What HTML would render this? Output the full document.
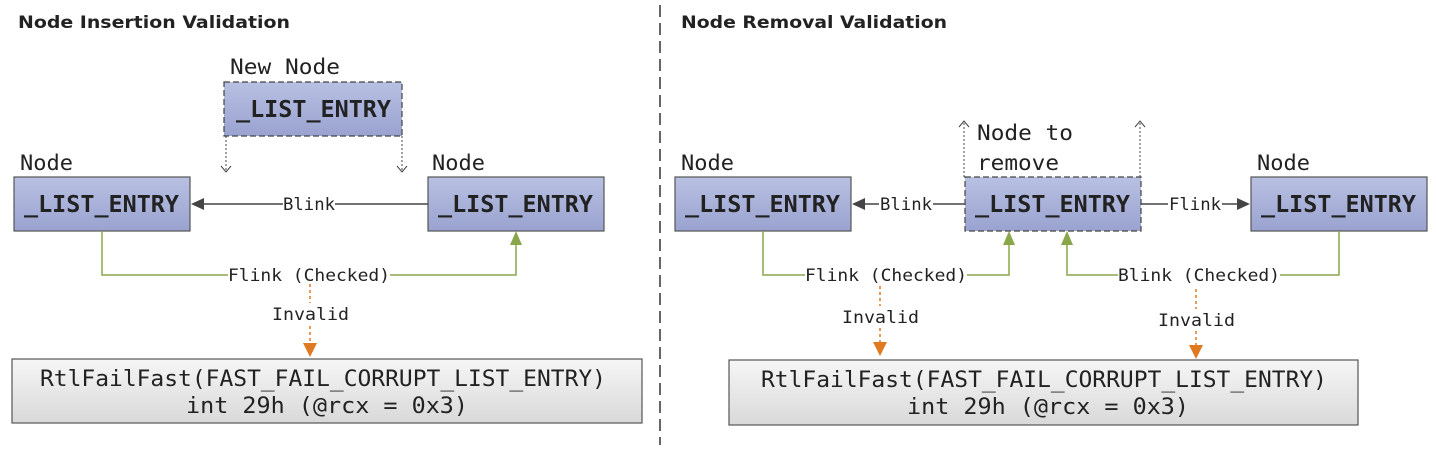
<!DOCTYPE html>
<html><head><meta charset="utf-8"><style>
html,body{margin:0;padding:0;background:#fff;width:1436px;height:450px;overflow:hidden}
text{font-family:"DejaVu Sans Mono","Liberation Mono",monospace;fill:#222}
.t{font-family:"DejaVu Sans","Liberation Sans",sans-serif;font-weight:bold;font-size:17px}
.b{font-weight:bold;font-size:23px}
.l{font-size:21px}
.s{font-size:17px}
.f{font-size:22px}
</style></head><body>
<svg width="1436" height="450" xmlns="http://www.w3.org/2000/svg">
<defs>
<linearGradient id="g" x1="0" y1="0" x2="0" y2="1"><stop offset="0" stop-color="#b8c0e2"/><stop offset="1" stop-color="#9aa3d0"/></linearGradient>
<linearGradient id="gg" x1="0" y1="0" x2="0" y2="1"><stop offset="0" stop-color="#f6f6f6"/><stop offset="1" stop-color="#d9d9d9"/></linearGradient>
</defs>
<line x1="660" y1="5" x2="660" y2="445" stroke="#333" stroke-width="1.5" stroke-dasharray="12,6"/>
<text class="t" x="18" y="28" textLength="272" lengthAdjust="spacingAndGlyphs">Node Insertion Validation</text>
<text class="t" x="681" y="28" textLength="266" lengthAdjust="spacingAndGlyphs">Node Removal Validation</text>

<text class="l" x="230" y="74" textLength="110" lengthAdjust="spacingAndGlyphs">New Node</text>
<rect x="224" y="82" width="178" height="54" fill="url(#g)" stroke="#444" stroke-dasharray="6,3" stroke-width="1.2"/>
<text class="b" x="236" y="117" textLength="155" lengthAdjust="spacingAndGlyphs">_LIST_ENTRY</text>
<line x1="226" y1="136" x2="226" y2="172" stroke="#444" stroke-dasharray="2,2"/>
<path d="M221 166 L226 172 L231 166" fill="none" stroke="#444"/>
<line x1="402" y1="136" x2="402" y2="172" stroke="#444" stroke-dasharray="2,2"/>
<path d="M397 166 L402 172 L407 166" fill="none" stroke="#444"/>
<text class="l" x="20" y="170" textLength="53" lengthAdjust="spacingAndGlyphs">Node</text>
<text class="l" x="432" y="170" textLength="53" lengthAdjust="spacingAndGlyphs">Node</text>
<rect x="14" y="177" width="176" height="54" fill="url(#g)" stroke="#555" stroke-width="1.2"/>
<text class="b" x="24" y="212" textLength="155" lengthAdjust="spacingAndGlyphs">_LIST_ENTRY</text>
<rect x="428" y="177" width="176" height="54" fill="url(#g)" stroke="#555" stroke-width="1.2"/>
<text class="b" x="438" y="212" textLength="155" lengthAdjust="spacingAndGlyphs">_LIST_ENTRY</text>
<line x1="428" y1="204" x2="200" y2="204" stroke="#444" stroke-width="1.5"/>
<path d="M191 204 L204 198 L204 210Z" fill="#444"/>
<rect x="283" y="195" width="52" height="16" fill="#fff"/>
<text class="s" x="283" y="210" textLength="52" lengthAdjust="spacingAndGlyphs">Blink</text>
<path d="M102 231 V275 H516 V240" fill="none" stroke="#8aa64a" stroke-width="1.5"/>
<path d="M516 231 L510 245 L522 245Z" fill="#8aa64a"/>
<rect x="228" y="267" width="162" height="16" fill="#fff"/>
<text class="s" x="228" y="281" textLength="162" lengthAdjust="spacingAndGlyphs">Flink (Checked)</text>
<line x1="310" y1="284" x2="310" y2="345" stroke="#e07a20" stroke-width="1.5" stroke-dasharray="3,3"/>
<rect x="270" y="303" width="80" height="22" fill="#fff"/>
<text class="s" x="272" y="320" textLength="77" lengthAdjust="spacingAndGlyphs">Invalid</text>
<path d="M310 357 L303 343 L317 343Z" fill="#e07a20"/>
<rect x="12" y="359" width="630" height="64" fill="url(#gg)" stroke="#555" stroke-width="1.2"/>
<text class="f" x="40" y="386" textLength="566" lengthAdjust="spacingAndGlyphs">RtlFailFast(FAST_FAIL_CORRUPT_LIST_ENTRY)</text>
<text class="f" x="186" y="413" textLength="282" lengthAdjust="spacingAndGlyphs">int 29h (@rcx = 0x3)</text>

<text class="l" x="977" y="140" textLength="96" lengthAdjust="spacingAndGlyphs">Node to</text>
<text class="l" x="977" y="170" textLength="82" lengthAdjust="spacingAndGlyphs">remove</text>
<text class="l" x="681" y="170" textLength="53" lengthAdjust="spacingAndGlyphs">Node</text>
<text class="l" x="1257" y="170" textLength="53" lengthAdjust="spacingAndGlyphs">Node</text>
<line x1="964" y1="177" x2="964" y2="121" stroke="#444" stroke-dasharray="2,2"/>
<path d="M959 127 L964 121 L969 127" fill="none" stroke="#444"/>
<line x1="1140" y1="177" x2="1140" y2="121" stroke="#444" stroke-dasharray="2,2"/>
<path d="M1135 127 L1140 121 L1145 127" fill="none" stroke="#444"/>
<rect x="675" y="177" width="176" height="54" fill="url(#g)" stroke="#555" stroke-width="1.2"/>
<text class="b" x="685" y="212" textLength="155" lengthAdjust="spacingAndGlyphs">_LIST_ENTRY</text>
<rect x="965" y="177" width="176" height="54" fill="url(#g)" stroke="#444" stroke-dasharray="6,3" stroke-width="1.2"/>
<text class="b" x="975" y="212" textLength="155" lengthAdjust="spacingAndGlyphs">_LIST_ENTRY</text>
<rect x="1251" y="177" width="176" height="54" fill="url(#g)" stroke="#555" stroke-width="1.2"/>
<text class="b" x="1261" y="212" textLength="155" lengthAdjust="spacingAndGlyphs">_LIST_ENTRY</text>
<line x1="965" y1="204" x2="860" y2="204" stroke="#444" stroke-width="1.5"/>
<path d="M852 204 L865 198 L865 210Z" fill="#444"/>
<rect x="879" y="195" width="54" height="16" fill="#fff"/>
<text class="s" x="880" y="210" textLength="52" lengthAdjust="spacingAndGlyphs">Blink</text>
<line x1="1141" y1="204" x2="1242" y2="204" stroke="#444" stroke-width="1.5"/>
<path d="M1250 204 L1237 198 L1237 210Z" fill="#444"/>
<rect x="1168" y="195" width="54" height="16" fill="#fff"/>
<text class="s" x="1169" y="210" textLength="52" lengthAdjust="spacingAndGlyphs">Flink</text>
<path d="M763 231 V275 H1009 V240" fill="none" stroke="#8aa64a" stroke-width="1.5"/>
<path d="M1009 231 L1003 245 L1015 245Z" fill="#8aa64a"/>
<rect x="805" y="267" width="162" height="16" fill="#fff"/>
<text class="s" x="805" y="281" textLength="162" lengthAdjust="spacingAndGlyphs">Flink (Checked)</text>
<path d="M1339 231 V275 H1067 V240" fill="none" stroke="#8aa64a" stroke-width="1.5"/>
<path d="M1067 231 L1061 245 L1073 245Z" fill="#8aa64a"/>
<rect x="1118" y="267" width="162" height="16" fill="#fff"/>
<text class="s" x="1118" y="281" textLength="162" lengthAdjust="spacingAndGlyphs">Blink (Checked)</text>
<line x1="880" y1="286" x2="880" y2="343" stroke="#e07a20" stroke-width="1.5" stroke-dasharray="3,3"/>
<rect x="840" y="306" width="80" height="22" fill="#fff"/>
<text class="s" x="842" y="323" textLength="77" lengthAdjust="spacingAndGlyphs">Invalid</text>
<path d="M880 356 L873 342 L887 342Z" fill="#e07a20"/>
<line x1="1196" y1="289" x2="1196" y2="346" stroke="#e07a20" stroke-width="1.5" stroke-dasharray="3,3"/>
<rect x="1156" y="309" width="80" height="22" fill="#fff"/>
<text class="s" x="1158" y="326" textLength="77" lengthAdjust="spacingAndGlyphs">Invalid</text>
<path d="M1196 359 L1189 345 L1203 345Z" fill="#e07a20"/>
<rect x="729" y="360" width="629" height="65" fill="url(#gg)" stroke="#555" stroke-width="1.2"/>
<text class="f" x="761" y="387" textLength="566" lengthAdjust="spacingAndGlyphs">RtlFailFast(FAST_FAIL_CORRUPT_LIST_ENTRY)</text>
<text class="f" x="907" y="414" textLength="282" lengthAdjust="spacingAndGlyphs">int 29h (@rcx = 0x3)</text>
</svg>
</body></html>
